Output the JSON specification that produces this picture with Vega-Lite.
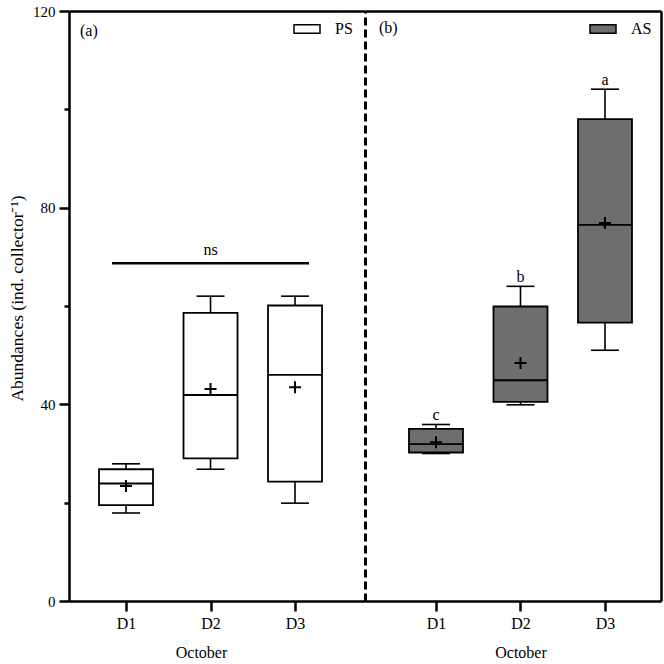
{
  "$schema": "https://vega.github.io/schema/vega-lite/v6.json",
  "background": "white",
  "padding": {"left": 8, "top": 4, "right": 4, "bottom": 5},
  "bounds": "flush",
  "spacing": 0,
  "datasets": {
    "ps": [
      {"series": "PS", "day": "D1", "lo": 17.9, "q1": 19.5, "med": 23.9, "q3": 26.8, "hi": 27.9, "mean": 23.4},
      {"series": "PS", "day": "D2", "lo": 26.8, "q1": 29.0, "med": 41.9, "q3": 58.6, "hi": 62.0, "mean": 43.1},
      {"series": "PS", "day": "D3", "lo": 19.9, "q1": 24.3, "med": 46.0, "q3": 60.1, "hi": 62.0, "mean": 43.5}
    ],
    "as": [
      {"series": "AS", "day": "D1", "lo": 30.0, "q1": 30.2, "med": 31.9, "q3": 35.0, "hi": 35.9, "mean": 32.3, "letter": "c"},
      {"series": "AS", "day": "D2", "lo": 39.9, "q1": 40.5, "med": 44.9, "q3": 59.9, "hi": 64.0, "mean": 48.4, "letter": "b"},
      {"series": "AS", "day": "D3", "lo": 51.0, "q1": 56.6, "med": 76.5, "q3": 98.0, "hi": 104.1, "mean": 76.9, "letter": "a"}
    ],
    "ns": [{"from": "D1", "mid": "D2", "to": "D3", "y": 68.7, "label": "ns"}]
  },
  "config": {
    "font": "Liberation Serif",
    "view": {"stroke": null},
    "axis": {"labelFont": "Liberation Serif", "titleFont": "Liberation Serif", "labelColor": "black", "titleColor": "black", "domainColor": "black", "tickColor": "black", "titleFontWeight": "normal", "grid": false},
    "legend": {"orient": "none", "legendX": 224, "legendY": 4, "padding": 0, "symbolType": "M-1,-0.33H1V0.33H-1Z", "symbolSize": 676, "symbolStrokeColor": "black", "symbolStrokeWidth": 1.5, "symbolOpacity": 1, "labelFont": "Liberation Serif", "labelFontSize": 16, "labelOffset": 14, "labelColor": "black"}
  },
  "resolve": {"scale": {"x": "independent", "y": "independent", "fill": "independent"}, "legend": {"fill": "independent"}, "axis": {"x": "independent", "y": "independent"}},
  "hconcat": [
    {
      "width": 296,
      "height": 590,
      "title": {"text": "(a)", "anchor": "start", "frame": "group", "offset": -35, "dx": 11, "fontSize": 16, "font": "Liberation Serif", "fontWeight": "normal", "color": "black"},
      "resolve": {"axis": {"x": "independent", "y": "independent"}},
      "layer": [
        {
          "data": {"name": "ps"},
          "mark": {"type": "rule", "strokeWidth": 1.6, "color": "black"},
          "encoding": {
            "x": {"field": "day", "type": "ordinal", "scale": {"type": "point", "domain": ["D1", "D2", "D3"], "padding": 0.7515, "align": 0.449},
              "axis": {"orient": "bottom", "title": "October", "labelAngle": 0, "labelFontSize": 16, "titleFontSize": 16, "tickSize": 10, "tickWidth": 2.5, "domainWidth": 2.5, "labelPadding": 4, "titlePadding": 13, "titleX": 132, "zindex": 1}},
            "y": {"field": "lo", "type": "quantitative", "scale": {"domain": [0, 120], "nice": false, "zero": true},
              "axis": {"orient": "left", "values": [0, 40, 80, 120], "title": "Abundances (ind. collector⁻¹)", "labelFontSize": 15, "titleFontSize": 17.5, "tickSize": 10, "tickWidth": 2.5, "domainWidth": 2.5, "labelPadding": 4, "titlePadding": 6, "titleY": 287, "zindex": 1}},
            "y2": {"field": "hi"}
          }
        },
        {
          "data": {"name": "ps"},
          "mark": {"type": "tick", "size": 28, "thickness": 1.6, "color": "black", "opacity": 1},
          "encoding": {
            "x": {"field": "day", "type": "ordinal", "axis": {"orient": "top", "labels": false, "ticks": false, "title": null, "domainWidth": 2.5, "zindex": 1}},
            "y": {"field": "hi", "type": "quantitative", "axis": {"orient": "left", "values": [20, 60, 100], "labels": false, "domain": false, "tickSize": 5, "tickWidth": 2.5, "title": null, "zindex": 1}}
          }
        },
        {
          "data": {"name": "ps"},
          "mark": {"type": "tick", "size": 28, "thickness": 1.6, "color": "black", "opacity": 1},
          "encoding": {
            "x": {"field": "day", "type": "ordinal", "axis": null},
            "y": {"field": "lo", "type": "quantitative", "axis": null}
          }
        },
        {
          "data": {"name": "ps"},
          "mark": {"type": "bar", "size": 54, "stroke": "black", "strokeWidth": 1.8, "opacity": 1},
          "encoding": {
            "x": {"field": "day", "type": "ordinal", "axis": null},
            "y": {"field": "q1", "type": "quantitative", "axis": null},
            "y2": {"field": "q3"},
            "fill": {"field": "series", "type": "nominal", "scale": {"domain": ["PS"], "range": ["#ffffff"]}, "legend": {"title": null}}
          }
        },
        {
          "data": {"name": "ps"},
          "mark": {"type": "tick", "size": 55, "thickness": 1.8, "color": "black", "opacity": 1},
          "encoding": {
            "x": {"field": "day", "type": "ordinal", "axis": null},
            "y": {"field": "med", "type": "quantitative", "axis": null}
          }
        },
        {
          "data": {"name": "ps"},
          "mark": {"type": "point", "shape": "M-1,0H1M0,-1V1", "size": 144, "filled": false, "strokeWidth": 2, "color": "black", "opacity": 1},
          "encoding": {
            "x": {"field": "day", "type": "ordinal", "axis": null},
            "y": {"field": "mean", "type": "quantitative", "axis": null}
          }
        },
        {
          "data": {"name": "ns"},
          "mark": {"type": "rule", "strokeWidth": 2.5, "color": "black", "xOffset": -14, "x2Offset": 14},
          "encoding": {
            "x": {"field": "from", "type": "ordinal", "axis": null},
            "x2": {"field": "to"},
            "y": {"field": "y", "type": "quantitative", "axis": null}
          }
        },
        {
          "data": {"name": "ns"},
          "mark": {"type": "text", "dy": -13, "fontSize": 16, "color": "black", "font": "Liberation Serif"},
          "encoding": {
            "x": {"field": "mid", "type": "ordinal", "axis": null},
            "y": {"field": "y", "type": "quantitative", "axis": null},
            "text": {"field": "label"}
          }
        }
      ]
    },
    {
      "width": 296,
      "height": 590,
      "title": {"text": "(b)", "anchor": "start", "frame": "group", "offset": -25, "dx": 14, "fontSize": 16, "font": "Liberation Serif", "fontWeight": "normal", "color": "black"},
      "resolve": {"axis": {"x": "independent", "y": "independent"}},
      "data": {"name": "as"},
      "layer": [
        {
          "mark": {"type": "rule", "strokeWidth": 1.6, "color": "black"},
          "encoding": {
            "x": {"field": "day", "type": "ordinal", "scale": {"type": "point", "domain": ["D1", "D2", "D3"], "padding": 0.7515, "align": 0.559},
              "axis": {"orient": "bottom", "title": "October", "labelAngle": 0, "labelFontSize": 16, "titleFontSize": 16, "tickSize": 10, "tickWidth": 2.5, "domainWidth": 2.5, "labelPadding": 4, "titlePadding": 13, "titleX": 155.5, "zindex": 1}},
            "y": {"field": "lo", "type": "quantitative", "scale": {"domain": [0, 120], "nice": false, "zero": true},
              "axis": {"orient": "left", "labels": false, "ticks": false, "title": null, "domainWidth": 3, "domainDash": [8, 4], "zindex": 1}},
            "y2": {"field": "hi"}
          }
        },
        {
          "mark": {"type": "tick", "size": 28, "thickness": 1.6, "color": "black", "opacity": 1},
          "encoding": {
            "x": {"field": "day", "type": "ordinal", "axis": {"orient": "top", "labels": false, "ticks": false, "title": null, "domainWidth": 2.5, "zindex": 1}},
            "y": {"field": "hi", "type": "quantitative", "axis": {"orient": "right", "labels": false, "ticks": false, "title": null, "domainWidth": 2.5, "zindex": 1}}
          }
        },
        {
          "mark": {"type": "tick", "size": 28, "thickness": 1.6, "color": "black", "opacity": 1},
          "encoding": {
            "x": {"field": "day", "type": "ordinal", "axis": null},
            "y": {"field": "lo", "type": "quantitative", "axis": null}
          }
        },
        {
          "mark": {"type": "bar", "size": 54, "stroke": "black", "strokeWidth": 1.8, "opacity": 1},
          "encoding": {
            "x": {"field": "day", "type": "ordinal", "axis": null},
            "y": {"field": "q1", "type": "quantitative", "axis": null},
            "y2": {"field": "q3"},
            "fill": {"field": "series", "type": "nominal", "scale": {"domain": ["AS"], "range": ["#6e6e6e"]}, "legend": {"title": null}}
          }
        },
        {
          "mark": {"type": "tick", "size": 55, "thickness": 1.8, "color": "black", "opacity": 1},
          "encoding": {
            "x": {"field": "day", "type": "ordinal", "axis": null},
            "y": {"field": "med", "type": "quantitative", "axis": null}
          }
        },
        {
          "mark": {"type": "point", "shape": "M-1,0H1M0,-1V1", "size": 144, "filled": false, "strokeWidth": 2, "color": "black", "opacity": 1},
          "encoding": {
            "x": {"field": "day", "type": "ordinal", "axis": null},
            "y": {"field": "mean", "type": "quantitative", "axis": null}
          }
        },
        {
          "mark": {"type": "text", "dy": -9, "fontSize": 16, "color": "black", "font": "Liberation Serif"},
          "encoding": {
            "x": {"field": "day", "type": "ordinal", "axis": null},
            "y": {"field": "hi", "type": "quantitative", "axis": null},
            "text": {"field": "letter"}
          }
        }
      ]
    }
  ]
}
